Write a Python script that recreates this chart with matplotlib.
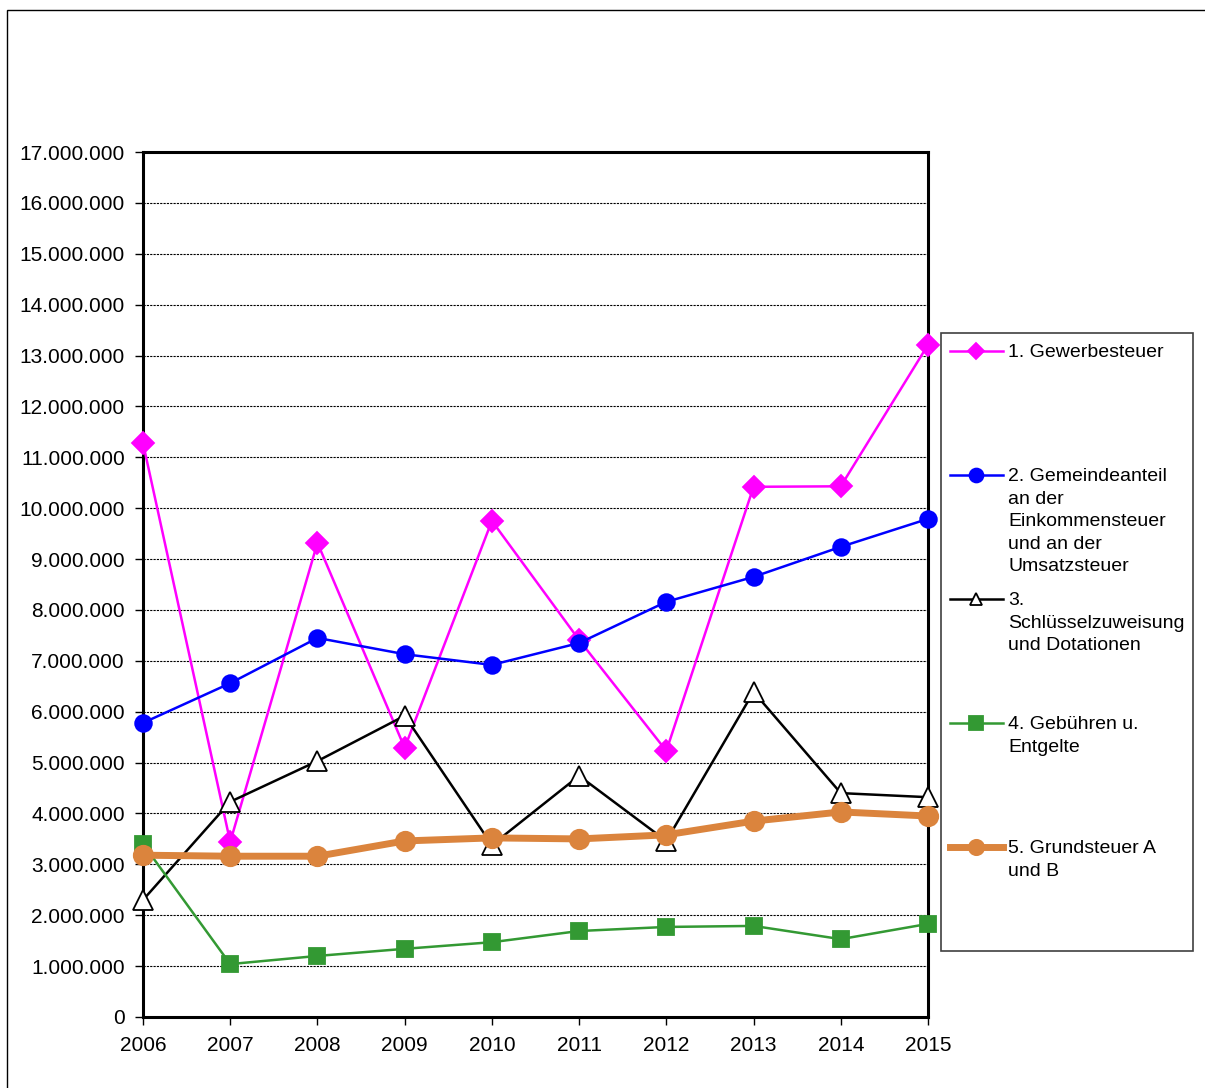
import matplotlib
matplotlib.use('Agg')
import matplotlib.pyplot as plt
from matplotlib.lines import Line2D
from matplotlib.patches import Rectangle
from matplotlib.ticker import FuncFormatter, MultipleLocator

plt.rcParams['font.family'] = ['Liberation Sans', 'DejaVu Sans']

years = [2006, 2007, 2008, 2009, 2010, 2011, 2012, 2013, 2014, 2015]

gewerbesteuer = [11280000, 3440000, 9320000, 5290000, 9750000,
                 7410000, 5230000, 10420000, 10430000, 13210000]
gemeindeanteil = [5780000, 6560000, 7450000, 7130000, 6920000,
                  7350000, 8160000, 8650000, 9240000, 9790000]
schluessel = [2300000, 4230000, 5030000, 5920000, 3380000,
              4740000, 3460000, 6390000, 4400000, 4320000]
gebuehren = [3400000, 1040000, 1200000, 1340000, 1470000,
             1690000, 1770000, 1790000, 1530000, 1830000]
grundsteuer = [3180000, 3160000, 3160000, 3460000, 3520000,
               3500000, 3580000, 3850000, 4030000, 3950000]

labels = ['1. Gewerbesteuer',
          '2. Gemeindeanteil\nan der\nEinkommensteuer\nund an der\nUmsatzsteuer',
          '3.\nSchlüsselzuweisung\nund Dotationen',
          '4. Gebühren u.\nEntgelte',
          '5. Grundsteuer A\nund B']

# colour, marker, marker size, line width, marker face
styles = [
    ('#FF00FF', 'D', 11, 1.8, '#FF00FF'),
    ('#0000FF', 'o', 12, 1.8, '#0000FF'),
    ('#000000', '^', 15, 1.8, 'white'),
    ('#339933', 's', 12, 1.8, '#339933'),
    ('#DB843D', 'o', 14, 5, '#DB843D'),
]
series = [gewerbesteuer, gemeindeanteil, schluessel, gebuehren, grundsteuer]

W, H = 1205, 1088
fig = plt.figure(figsize=(W / 100, H / 100), dpi=100)
ax = fig.add_axes([143 / W, 1 - 1017 / H, (928 - 143) / W, (1017 - 152) / H])

for i, (vals, st) in enumerate(zip(series, styles)):
    col, mk, ms, lw, mfc = st
    ax.plot(years, vals, color=col, marker=mk, markersize=ms, linewidth=lw,
            markerfacecolor=mfc, markeredgecolor=col, markeredgewidth=1.3,
            clip_on=False, zorder=3 + i)

ax.set_xlim(2006, 2015)
ax.set_ylim(0, 17000000)
ax.set_xticks(years)
ax.yaxis.set_major_locator(MultipleLocator(1000000))
ax.yaxis.set_major_formatter(FuncFormatter(lambda v, p: f'{int(v):,}'.replace(',', '.')))
ax.grid(axis='y', color='black', linestyle=(0, (2, 1)), linewidth=0.8)
ax.set_axisbelow(True)
for s in ax.spines.values():
    s.set_linewidth(2.2)
ax.tick_params(axis='both', labelsize=15, length=6, width=1, direction='out')
ax.tick_params(axis='y', pad=7)
ax.tick_params(axis='x', pad=8)

# figure border
fig.add_artist(Rectangle((7 / W, -0.1), 1.2, 1 - 10 / H + 0.1, transform=fig.transFigure,
                         fill=False, edgecolor='black', linewidth=1))

# legend, drawn by hand so the entries keep an even spacing
lx0, lx1, ly0, ly1 = 941, 1193, 333, 951
fig.add_artist(Rectangle((lx0 / W, 1 - ly1 / H), (lx1 - lx0) / W, (ly1 - ly0) / H,
                         transform=fig.transFigure, fill=False,
                         edgecolor='#404040', linewidth=1.2))
leg_ms = [8, 10, 9, 10, 11]
for i, (lab, st) in enumerate(zip(labels, styles)):
    col, mk, ms, lw, mfc = st
    yc = 351 + 124 * i
    fig.add_artist(Line2D([950 / W, 1003 / W], [1 - yc / H] * 2, transform=fig.transFigure,
                          color=col, linewidth=lw))
    fig.add_artist(Line2D([976 / W], [1 - yc / H], transform=fig.transFigure,
                          marker=mk, markersize=leg_ms[i], markerfacecolor=mfc,
                          markeredgecolor=col, markeredgewidth=1.3, linestyle='none'))
    fig.text(1008 / W, 1 - (yc - 7) / H, lab, fontsize=14, va='top', ha='left',
             linespacing=1.43)

fig.savefig('out.png', dpi=100)
